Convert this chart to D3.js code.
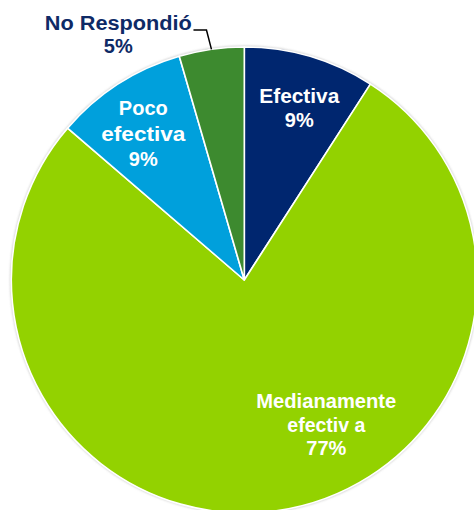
<!DOCTYPE html>
<html>
<head>
<meta charset="utf-8">
<script src="https://cdn.jsdelivr.net/npm/d3@7"></script>
<style>
  html, body { margin: 0; padding: 0; background: #fff; }
  svg { display: block; }
  text { font-family: "Liberation Sans", Arial, sans-serif; font-weight: bold; }
</style>
</head>
<body>
<svg id="chart" width="474" height="510"></svg>
<script>
// Survey answers, clockwise from 12 o'clock
const categories = ["Efectiva", "Medianamente efectiva", "Poco efectiva", "No Respondió"];
const values = [9.1, 77.2, 9.2, 4.5];
const colors = ["#00266F", "#93D200", "#00A0DC", "#3D8A2F"];
// Text lines of each slice label (percent line is appended from the value)
const labelLines = [["Efectiva"], ["Medianamente", "efectiv a"], ["Poco", "efectiva"], ["No Respondió"]];

const svg = d3.select("#chart");
const cx = 244.3, cy = 280, r = 233;

const defs = svg.append("defs");
defs.append("filter").attr("id", "soft")
  .attr("x", "-10%").attr("y", "-10%").attr("width", "120%").attr("height", "120%")
  .append("feGaussianBlur").attr("stdDeviation", 1.2);

const g = svg.append("g").attr("transform", `translate(${cx},${cy})`);

// faint shadow ring around the pie
g.append("circle").attr("r", r + 1.2).attr("fill", "#cfcfcf").attr("filter", "url(#soft)");

const data = categories.map((c, i) => ({ cat: c, value: values[i], color: colors[i], lines: labelLines[i] }));

const pie = d3.pie().value(d => d.value).sort(null);
const arc = d3.arc().innerRadius(0).outerRadius(r);
const arcs = pie(data);

g.selectAll("path.slice").data(arcs).join("path")
  .attr("class", "slice")
  .attr("d", arc)
  .attr("fill", d => d.data.color)
  .attr("stroke", "#fff")
  .attr("stroke-width", 1.6)
  .attr("stroke-linejoin", "round");

// label placement relative to the pie centre
const labelLayout = [
  { dx: 55, dy: -177, fill: "#fff", widths: [80], gap: 24 },
  { dx: 82, dy: 128, fill: "#fff", widths: [140, 78], gap: 23.5 },
  { dx: -101, dy: -165, fill: "#fff", widths: [null, 84], gap: 25.5 },
  { dx: -126, dy: -250, fill: "#0E2A66", widths: [147], gap: 22.5 }
];

arcs.forEach((a, i) => {
  const L = labelLayout[i];
  const lines = a.data.lines.concat([Math.round(a.data.value) + "%"]);
  const t = g.append("text")
    .attr("text-anchor", "middle")
    .attr("fill", L.fill)
    .attr("font-size", 20);
  lines.forEach((s, k) => {
    const ts = t.append("tspan")
      .attr("x", L.dx)
      .attr("y", L.dy + k * L.gap)
      .text(s);
    const w = L.widths[k];
    if (w) ts.attr("textLength", w).attr("lengthAdjust", "spacingAndGlyphs");
  });
});

// leader line for the small slice
const nr = arcs[3];
const mid = (nr.startAngle + nr.endAngle) / 2;
const px = r * Math.sin(mid), py = -r * Math.cos(mid);
g.append("path")
  .attr("d", d3.line()([[px, py], [px - 5, -250], [px - 18, -250]]))
  .attr("fill", "none")
  .attr("stroke", "#000")
  .attr("stroke-width", 1.5);
</script>
</body>
</html>
